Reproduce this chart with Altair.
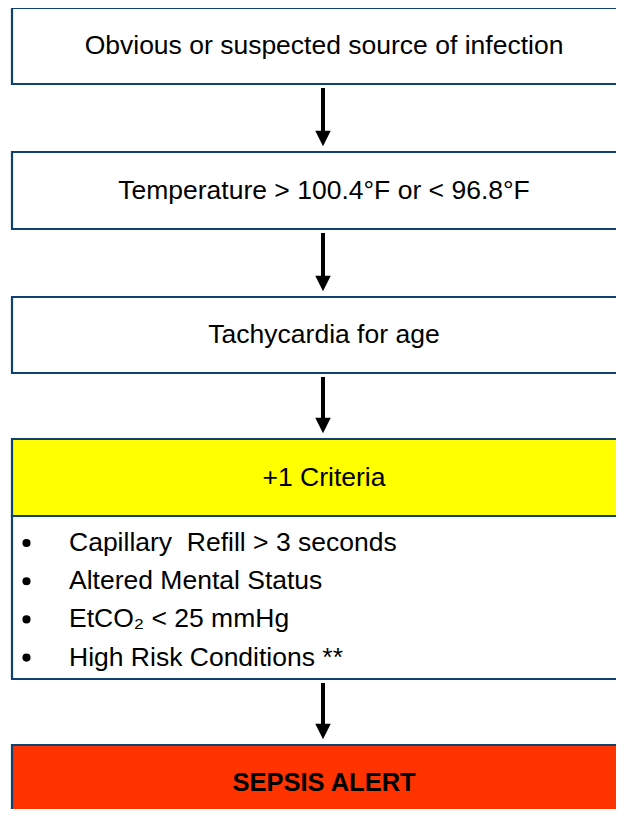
import altair as alt
import pandas as pd

# ---- content ----
step_labels = [
    "Obvious or suspected source of infection",
    "Temperature > 100.4°F or < 96.8°F",
    "Tachycardia for age",
    "+1 Criteria",
    "SEPSIS ALERT",
]
step_fills = ["#FFFFFF", "#FFFFFF", "#FFFFFF", "#FFFF00", "#FF3300"]
step_weights = ["normal", "normal", "normal", "normal", "bold"]
criteria_items = [
    "Capillary\u00a0 Refill > 3 seconds",
    "Altered Mental Status",
    "EtCO₂ < 25 mmHg",
    "High Risk Conditions **",
]

# ---- layout (page pixel space) ----
box_tops = [8, 152, 297, 439, 745]
box_bottoms = [84, 229, 373, 516, 840]
list_top, list_bottom = 516, 679
item_y0, item_step = 543, 38.2
left_edge, right_edge = 12, 700
center_x = 324
border = "#0F4270"
font = "Liberation Sans"

W, H = 608, 801  # plot area (page x 8..616, y 8..809)

boxes = pd.DataFrame({
    "label": step_labels,
    "fill": step_fills,
    "weight": step_weights,
    "x": left_edge, "x2": right_edge,
    "y": box_tops, "y2": box_bottoms,
})
boxes["ty"] = [(t + min(b, 818)) / 2 + (1 if i == 4 else 0) for i, (t, b) in enumerate(zip(box_tops, box_bottoms))]
boxes["tx"] = center_x

list_box = pd.DataFrame({"x": [left_edge], "x2": [right_edge], "y": [list_top], "y2": [list_bottom]})

items = pd.DataFrame({
    "item": criteria_items,
    "y": [item_y0 + i * item_step for i in range(len(criteria_items))],
    "bx": 26.5,
    "tx": 69,
})

# arrows between consecutive blocks
arrow_from = [box_bottoms[0], box_bottoms[1], box_bottoms[2], list_bottom]
arrow_to = [box_tops[1], box_tops[2], box_tops[3], box_tops[4]]
arrows = pd.DataFrame({
    "x": 323,
    "y": [a + 4 for a in arrow_from],
    "y2": [b - 20 for b in arrow_to],
    "hy": [b - 13.5 for b in arrow_to],
})

X = alt.Scale(domain=[8, 8 + W])
Y = alt.Scale(domain=[8, 8 + H], reverse=True)

def xq(f):
    return alt.X(f, type="quantitative", scale=X, axis=None)

def yq(f):
    return alt.Y(f, type="quantitative", scale=Y, axis=None)

rects = alt.Chart(boxes).mark_rect(stroke=border, strokeWidth=2.2, clip=True).encode(
    x=xq("x"), x2="x2", y=yq("y"), y2="y2",
    fill=alt.Fill("fill:N", scale=None),
)

lrect = alt.Chart(list_box).mark_rect(stroke=border, strokeWidth=2.2, fill="white", clip=True).encode(
    x=xq("x"), x2="x2", y=yq("y"), y2="y2",
)

texts_normal = alt.Chart(boxes).transform_filter(alt.datum.weight == "normal").mark_text(
    font=font, fontSize=26.5, color="black", baseline="middle", align="center"
).encode(x=xq("tx"), y=yq("ty"), text="label:N")

texts_bold = alt.Chart(boxes).transform_filter(alt.datum.weight == "bold").mark_text(
    font=font, fontSize=25.5, fontWeight="bold", color="black", baseline="middle", align="center"
).encode(x=xq("tx"), y=yq("ty"), text="label:N")

bullets = alt.Chart(items).mark_point(filled=True, shape="circle", size=66, color="black", opacity=1).encode(
    x=xq("bx"), y=yq("y")
)

item_text = alt.Chart(items).mark_text(
    font=font, fontSize=26.5, color="black", baseline="middle", align="left"
).encode(x=xq("tx"), y=yq("y"), text="item:N")

shafts = alt.Chart(arrows).mark_rule(color="black", strokeWidth=4).encode(
    x=xq("x"), y=yq("y"), y2="y2"
)

heads = alt.Chart(arrows).mark_point(
    filled=True, shape="M-1,-1L1,-1L0,1Z", size=240, color="black", opacity=1
).encode(x=xq("x"), y=yq("hy"))

chart = alt.layer(
    rects, lrect, texts_normal, texts_bold, bullets, item_text, shafts, heads
).properties(
    width=W, height=H, padding=0, autosize=alt.AutoSizeParams(type="none"), background="white"
).configure_view(stroke=None)

chart.save("out.html", embed_options={"renderer": "svg", "actions": False})
